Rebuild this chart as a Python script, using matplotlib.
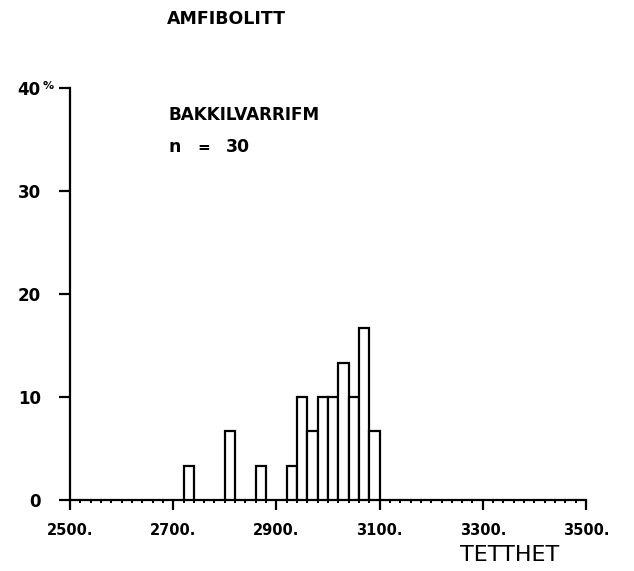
import numpy as np
import matplotlib
matplotlib.use("Agg")
import matplotlib.pyplot as plt
from matplotlib.ticker import MultipleLocator, FixedLocator

# Density histogram of amphibolite samples (bin width 20 kg/m3)
title = "AMFIBOLITT"
locality = "BAKKILVARRIFM"
n_samples = 30
bin_left = [2720, 2800, 2860, 2920, 2940, 2960, 2980, 3000, 3020, 3040, 3060, 3080]
counts = [1, 2, 1, 1, 3, 2, 3, 3, 4, 3, 5, 2]
bin_width = 20
x_ticks = [2500, 2700, 2900, 3100, 3300, 3500]
x_labels = ["2500.", "2700.", "2900.", "3100.", "3300.", "3500."]
y_ticks = [0, 10, 20, 30, 40]
y_labels = ["0", "10", "20", "30", "40"]
x_name = "TETTHET"

percent = np.array(counts) / n_samples * 100.0

W, H = 634, 571
fig = plt.figure(figsize=(W / 100, H / 100), dpi=100)
fig.patch.set_facecolor("white")


def fx(px):
    return px / W


def fy(py):
    return 1 - py / H


ax = fig.add_axes([fx(70), fy(500), fx(586) - fx(70), fy(88) - fy(500)])
ax.bar(bin_left, percent, width=bin_width, align="edge", facecolor="white",
       edgecolor="black", linewidth=1.6, zorder=3)

ax.set_xlim(2500, 3500)
ax.set_ylim(0, 40)
for s in ("top", "right"):
    ax.spines[s].set_visible(False)
for s in ("left", "bottom"):
    ax.spines[s].set_linewidth(1.6)

ax.xaxis.set_major_locator(FixedLocator(x_ticks))
ax.xaxis.set_minor_locator(MultipleLocator(bin_width))
ax.set_xticklabels(x_labels, fontsize=10.5, fontweight="bold", family="DejaVu Sans")
ax.tick_params(axis="x", which="major", direction="out", length=7.5, width=1.6, pad=9)
ax.tick_params(axis="x", which="minor", direction="out", length=2.5, width=1.4)

ax.yaxis.set_major_locator(FixedLocator(y_ticks))
ax.set_yticklabels(y_labels, fontsize=12, fontweight="bold", family="DejaVu Sans")
ax.tick_params(axis="y", which="major", direction="out", length=8, width=1.6, pad=13)

# percent sign after the top y label
fig.text(fx(43), fy(86), "%", fontsize=8, fontweight="bold", ha="left", va="center")

fig.text(fx(167), fy(19), title, fontsize=12.5, fontweight="bold", ha="left", va="center")
fig.text(fx(168), fy(115), locality, fontsize=12.2, fontweight="bold", ha="left", va="center")
fig.text(fx(168), fy(147), "n", fontsize=12.5, fontweight="bold", ha="left", va="center")
fig.text(fx(197), fy(148), "=", fontsize=11, fontweight="bold", ha="left", va="center")
fig.text(fx(226), fy(147), str(n_samples), fontsize=12.5, fontweight="bold", ha="left", va="center")

fig.text(fx(510), fy(555), x_name, fontsize=16, ha="center", va="center")

fig.savefig("out.png", dpi=100, facecolor="white")
